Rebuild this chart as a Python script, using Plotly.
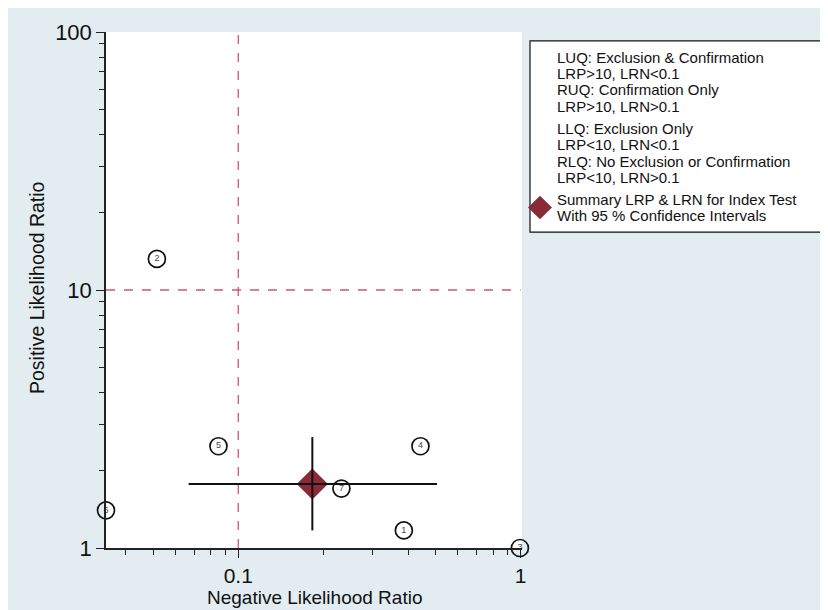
import plotly.graph_objects as go
import math

# Data
study_ids = ["1", "2", "3", "4", "5", "6", "7"]
lrn = [0.386, 0.0515, 0.995, 0.442, 0.0851, 0.034, 0.232]
lrp = [1.17, 13.2, 1.0, 2.48, 2.48, 1.40, 1.70]

summary_lrn = 0.183
summary_lrp = 1.77
summary_lrn_ci = [0.0667, 0.506]
summary_lrp_ci = [1.17, 2.69]

legend_lines = [
    "LUQ: Exclusion & Confirmation",
    "LRP>10, LRN<0.1",
    "RUQ: Confirmation Only",
    "LRP>10, LRN>0.1",
    "LLQ: Exclusion Only",
    "LRP<10, LRN<0.1",
    "RLQ: No Exclusion or Confirmation",
    "LRP<10, LRN>0.1",
    "Summary LRP & LRN for Index Test",
    "With 95 % Confidence Intervals",
]
x_title = "Negative Likelihood Ratio"
y_title = "Positive Likelihood Ratio"

W, H = 828, 610
OFF = 8  # page offset of the figure
# plot area in page pixels
L, R, T, B = 106, 522, 22, 548
FONT = "Liberation Sans, Arial, sans-serif"
BG = "#e3edf1"
REF = "#cc5580"
MAROON = "#8a2a36"


def px(xp):
    return (xp - L) / (R - L)


def py(yp):
    return (B - yp) / (B - T)


fig = go.Figure()

# reference lines
fig.add_trace(go.Scatter(x=[0.1, 0.1], y=[1, 100], mode="lines",
                         line=dict(color=REF, width=1.3, dash="dash"),
                         hoverinfo="skip", showlegend=False))
fig.add_trace(go.Scatter(x=[0.034, 1.0], y=[10, 10], mode="lines",
                         line=dict(color=REF, width=1.3, dash="dash"),
                         hoverinfo="skip", showlegend=False))

# study points
fig.add_trace(go.Scatter(x=lrn, y=lrp, mode="markers+text", text=study_ids,
                         textposition="middle center",
                         textfont=dict(size=9, color="#444444", family=FONT),
                         marker=dict(symbol="circle-open", size=17,
                                     line=dict(color="#111111", width=1.7),
                                     color="#111111"),
                         cliponaxis=False, showlegend=False))

# summary diamond
fig.add_trace(go.Scatter(x=[summary_lrn], y=[summary_lrp], mode="markers",
                         marker=dict(symbol="diamond", size=24, color=MAROON,
                                     line=dict(width=0)),
                         cliponaxis=False, showlegend=False))
# CIs
fig.add_trace(go.Scatter(x=summary_lrn_ci, y=[summary_lrp, summary_lrp], mode="lines",
                         line=dict(color="#111111", width=2), showlegend=False))
fig.add_trace(go.Scatter(x=[summary_lrn, summary_lrn], y=summary_lrp_ci, mode="lines",
                         line=dict(color="#111111", width=2), showlegend=False))

x_minor = [0.04, 0.05, 0.06, 0.07, 0.08, 0.09, 0.2, 0.3, 0.4, 0.5, 0.6, 0.7, 0.8, 0.9]
y_minor = [2, 3, 4, 5, 6, 7, 8, 9, 20, 30, 40, 50, 60, 70, 80, 90]

fig.update_xaxes(type="log", range=[math.log10(0.034), math.log10(1.012)],
                 tickvals=[0.1, 1], ticktext=["0.1", "1"],
                 ticks="outside", ticklen=8, tickwidth=1.3, tickcolor="#222222",
                 minor=dict(tickvals=x_minor, ticks="outside", ticklen=5,
                            tickwidth=1.3, tickcolor="#222222", showgrid=False),
                 showline=True, linecolor="#222222", linewidth=1.5,
                 showgrid=False, zeroline=False,
                 tickfont=dict(size=21, family=FONT, color="#111111"))
fig.update_yaxes(type="log", range=[0, 2],
                 tickvals=[1, 10, 100], ticktext=["1", "10", "100"],
                 ticks="outside", ticklen=8, tickwidth=1.3, tickcolor="#222222",
                 minor=dict(tickvals=y_minor, ticks="outside", ticklen=5,
                            tickwidth=1.3, tickcolor="#222222", showgrid=False),
                 showline=True, linecolor="#222222", linewidth=1.5,
                 showgrid=False, zeroline=False,
                 tickfont=dict(size=22, family=FONT, color="#111111"))

# legend box
shapes = [dict(type="rect", xref="paper", yref="paper",
               x0=px(530), x1=px(840), y0=py(226), y1=py(31),
               line=dict(color="#111111", width=1.2), fillcolor="white", layer="above")]
# legend diamond
cx, cy, hw = 540, 201, 12
shapes.append(dict(type="path", xref="paper", yref="paper",
                   path=f"M {px(cx-hw)} {py(cy)} L {px(cx)} {py(cy-hw)} L {px(cx+hw)} {py(cy)} L {px(cx)} {py(cy+hw)} Z",
                   fillcolor=MAROON, line=dict(width=0), layer="above"))

line_y = [48, 64.5, 81, 97.5, 120.5, 137, 153.5, 170, 193, 209.5]
annotations = []
for txt, yy in zip(legend_lines, line_y):
    annotations.append(dict(text=txt, xref="paper", yref="paper", x=px(555), y=py(yy),
                            xanchor="left", yanchor="middle", showarrow=False,
                            font=dict(size=15, family=FONT, color="#111111")))

# axis titles
annotations.append(dict(text=x_title, xref="paper", yref="paper", x=px(314), y=py(598),
                        xanchor="center", yanchor="middle", showarrow=False,
                        font=dict(size=19, family=FONT, color="#111111")))
annotations.append(dict(text=y_title, xref="paper", yref="paper", x=px(37), y=py(283),
                        xanchor="center", yanchor="middle", showarrow=False, textangle=-90,
                        font=dict(size=19.5, family=FONT, color="#111111")))

fig.update_layout(width=W, height=H,
                  margin=dict(l=L - OFF, r=W - (R - OFF), t=T - OFF, b=H - (B - OFF), pad=0),
                  paper_bgcolor=BG, plot_bgcolor="white",
                  shapes=shapes, annotations=annotations, showlegend=False)

fig.write_html("out.html")
